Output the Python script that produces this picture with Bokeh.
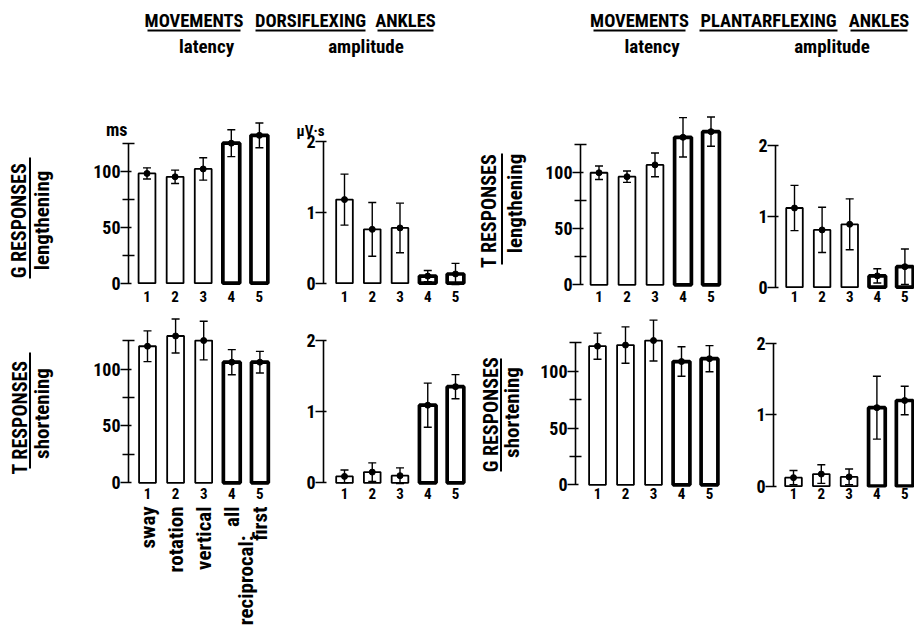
import math
from bokeh.plotting import figure
from bokeh.models import Range1d, FixedTicker, LinearAxis, Whisker, TeeHead, ColumnDataSource
from bokeh.layouts import row, column
from bokeh.core.properties import value
from bokeh.embed import file_html
from bokeh.resources import INLINE

FONT = "Roboto Condensed"

# ---------------- data ----------------
movements = [1, 2, 3, 4, 5]
movement_names = ["sway", "rotation", "vertical", "all", "first"]
reciprocal_label = "reciprocal:"

# movements dorsiflexing ankles
dorsi_G_len_latency_mean = [98, 95, 102, 125, 132]
dorsi_G_len_latency_sd = [5, 6, 10, 12, 11]
dorsi_G_len_amp_mean = [1.18, 0.76, 0.78, 0.10, 0.13]
dorsi_G_len_amp_sd = [0.36, 0.38, 0.35, 0.08, 0.15]
dorsi_T_sho_latency_mean = [120, 129, 125, 106, 106]
dorsi_T_sho_latency_sd = [13.5, 15, 17, 11, 9.5]
dorsi_T_sho_amp_mean = [0.09, 0.15, 0.10, 1.09, 1.35]
dorsi_T_sho_amp_sd = [0.09, 0.13, 0.11, 0.31, 0.17]

# movements plantarflexing ankles
plantar_T_len_latency_mean = [99.5, 96, 106.5, 131, 136]
plantar_T_len_latency_sd = [6, 5, 10.5, 17.5, 13]
plantar_T_len_amp_mean = [1.12, 0.81, 0.89, 0.16, 0.29]
plantar_T_len_amp_sd = [0.32, 0.32, 0.36, 0.10, 0.25]
plantar_G_sho_latency_mean = [122, 123, 127, 108.5, 111]
plantar_G_sho_latency_sd = [11.5, 16, 18, 13, 11.5]
plantar_G_sho_amp_mean = [0.12, 0.17, 0.13, 1.10, 1.20]
plantar_G_sho_amp_sd = [0.10, 0.13, 0.11, 0.44, 0.20]

latency_ticks = [0, 50, 100]
latency_minor = [25, 75, 125]
latency_top = 125
amp_ticks = [0, 1, 2]
amp_top = 2
latency_unit = "ms"
amp_unit = "μV·s"

# ---------------- style ----------------
bar_line_widths = [1.8, 1.8, 1.8, 3.7, 3.7]
BOLD = "bold"


def style_plain(p):
    p.outline_line_color = None
    p.background_fill_color = "white"
    p.border_fill_color = "white"
    for g in p.grid:
        g.visible = False


def label_fig(left, right, top, bottom, ft=None, fb=None, x_range=None):
    # plain figure whose data coordinates are page pixels; borders match the row's panels
    ft = top if ft is None else ft
    fb = bottom if fb is None else fb
    p = figure(width=right - left, height=bottom - top,
               x_range=x_range if x_range is not None else Range1d(left, right),
               y_range=Range1d(fb, ft),
               x_axis_location=None, y_axis_location=None,
               min_border=0, min_border_left=0, min_border_right=0,
               min_border_top=ft - top, min_border_bottom=bottom - fb,
               output_backend="svg", toolbar_location=None)
    style_plain(p)
    return p


def panel(left, right, top, bottom, ft, fb, axis_x, zero_y, ppu,
          bar1_x, pitch, frame_right, means, sds, kind):
    height = bottom - top
    x_lo = 1 - (bar1_x - axis_x) / pitch
    x_hi = x_lo + (frame_right - axis_x) / pitch
    y_hi = (zero_y - ft) / ppu
    y_lo = (zero_y - fb) / ppu
    mbl = int(round(axis_x - left))
    mbr = int(round(right - frame_right))
    p = figure(width=right - left, height=height,
               x_range=Range1d(x_lo, x_hi), y_range=Range1d(y_lo, y_hi),
               x_axis_location=None, y_axis_location=None,
               min_border_left=mbl, min_border_right=mbr,
               min_border_top=ft - top, min_border_bottom=bottom - fb,
               output_backend="svg", toolbar_location=None)
    style_plain(p)

    if kind == "latency":
        ticker = FixedTicker(ticks=latency_ticks, minor_ticks=latency_minor)
        bounds = (0, latency_top)
    else:
        ticker = FixedTicker(ticks=amp_ticks, minor_ticks=[])
        bounds = (0, amp_top)
    ya = LinearAxis(ticker=ticker, bounds=bounds)
    ya.axis_line_width = 1.6
    ya.major_tick_line_width = 1.6
    ya.minor_tick_line_width = 1.4
    ya.major_tick_out = 8
    ya.major_tick_in = 3
    ya.minor_tick_out = 6
    ya.minor_tick_in = 6
    ya.major_label_standoff = 0
    ya.major_label_text_font = FONT
    ya.major_label_text_font_style = BOLD
    ya.major_label_text_font_size = "18px"
    ya.major_label_text_color = "black"
    p.add_layout(ya, "left")

    xa = LinearAxis(ticker=FixedTicker(ticks=movements, minor_ticks=[]))
    xa.axis_line_color = None
    xa.major_tick_line_color = None
    xa.minor_tick_line_color = None
    xa.major_tick_out = 0
    xa.major_tick_in = 0
    xa.major_label_standoff = 0
    xa.major_label_text_font = FONT
    xa.major_label_text_font_style = BOLD
    xa.major_label_text_font_size = "15px"
    xa.major_label_text_color = "black"
    p.add_layout(xa, "below")

    lo = [m - s for m, s in zip(means, sds)]
    hi = [m + s for m, s in zip(means, sds)]
    src = ColumnDataSource(dict(x=movements, top=means, lo=lo, hi=hi, lw=bar_line_widths))
    p.vbar(x="x", top="top", bottom=0, width=0.6, source=src,
           fill_color="white", line_color="black", line_width="lw")
    w = Whisker(source=src, base="x", upper="hi", lower="lo", level="overlay",
                line_width=1.4, line_color="black",
                upper_head=TeeHead(size=8, line_width=1.4, line_color="black"),
                lower_head=TeeHead(size=8, line_width=1.4, line_color="black"))
    p.add_layout(w)
    p.scatter(x="x", y="top", source=src, size=6, color="black", level="overlay")
    return p, x_lo


def unit_axis(p, at, text, standoff, size):
    # a second, line-less left axis that only carries the unit label above the scale
    ua = LinearAxis(ticker=FixedTicker(ticks=[at], minor_ticks=[]),
                    major_label_overrides={at: text})
    ua.axis_line_color = None
    ua.major_tick_line_color = None
    ua.minor_tick_line_color = None
    ua.major_tick_out = 0
    ua.major_tick_in = 0
    ua.major_label_standoff = standoff
    ua.major_label_text_font = FONT
    ua.major_label_text_font_style = BOLD
    ua.major_label_text_font_size = size
    ua.major_label_text_color = "black"
    p.add_layout(ua, "left")


# ---------------- layout (page coordinates) ----------------
PAGE_R = 914
HDR_TOP, R1_TOP, R2_TOP, NAMES_TOP, PAGE_B = 0, 92, 314, 505, 632
R1_FT, R1_FB = 112, 290
R2_FT, R2_FB = 315, 487

# header
hdr = label_fig(0, PAGE_R, HDR_TOP, R1_TOP)
head_words = ["MOVEMENTS", "DORSIFLEXING", "ANKLES", "MOVEMENTS", "PLANTARFLEXING", "ANKLES"]
head_spans = [(147, 240), (255, 365), (377, 433), (593, 685), (699, 837), (850, 907)]
hdr.text(x=[(a + b) / 2 for a, b in head_spans], y=[20.5] * 6, text=head_words,
         text_font=value(FONT), text_font_style=BOLD, text_font_size="18.5px",
         text_align="center", text_baseline="middle", text_color="black")
hdr.segment(x0=[a for a, b in head_spans], x1=[b for a, b in head_spans],
            y0=[30] * 6, y1=[30] * 6, line_width=2, line_color="black")
sub_words = ["latency", "amplitude", "latency", "amplitude"]
hdr.text(x=[206, 365.5, 651.5, 831.5], y=[45.5] * 4, text=sub_words,
         text_font=value(FONT), text_font_style=BOLD, text_font_size="19px",
         text_align="center", text_baseline="middle", text_color="black")


def row_label(left, right, top, bottom, ft, fb, first, second, cx1, cy1, ux, uy0, uy1, cx2, cy2):
    p = label_fig(left, right, top, bottom, ft, fb)
    p.text(x=[cx1], y=[cy1], text=[first], angle=math.pi / 2,
           text_font=value(FONT), text_font_style=BOLD, text_font_size="20px",
           text_align="center", text_baseline="middle", text_color="black")
    p.segment(x0=[ux], x1=[ux], y0=[uy0], y1=[uy1], line_width=2, line_color="black")
    p.text(x=[cx2], y=[cy2], text=[second], angle=math.pi / 2,
           text_font=value(FONT), text_font_style=BOLD, text_font_size="21px",
           text_align="center", text_baseline="middle", text_color="black")
    return p


L1 = row_label(0, 70, R1_TOP, R2_TOP, R1_FT, R1_FB, "G  RESPONSES", "lengthening",
               18, 218, 29.5, 157, 278, 41.5, 220)
L2 = row_label(472, 530, R1_TOP, R2_TOP, R1_FT, R1_FB, "T  RESPONSES", "lengthening",
               488.5, 208, 501.5, 153, 264, 514.5, 203)
L3 = row_label(0, 70, R2_TOP, NAMES_TOP, R2_FT, R2_FB, "T    RESPONSES", "shortening",
               19, 410, 29.5, 352, 468, 41, 413)
L4 = row_label(472, 530, R2_TOP, NAMES_TOP, R2_FT, R2_FB, "G  RESPONSES", "shortening",
               490, 412, 500.5, 358, 471, 511, 412)

A, _ = panel(70, 290, R1_TOP, R2_TOP, R1_FT, R1_FB, 128, 282.7, 1.12, 146.5, 28.1, 273,
             dorsi_G_len_latency_mean, dorsi_G_len_latency_sd, "latency")
unit_axis(A, 137, latency_unit, -37, "18px")
B, _ = panel(290, 472, R1_TOP, R2_TOP, R1_FT, R1_FB, 323, 282.7, 70.85, 344, 27.75, 470,
             dorsi_G_len_amp_mean, dorsi_G_len_amp_sd, "amp")
unit_axis(B, 2.15, amp_unit, -21, "15px")
C, _ = panel(530, 740, R1_TOP, R2_TOP, R1_FT, R1_FB, 580, 284.3, 1.126, 598.5, 28, 735,
             plantar_T_len_latency_mean, plantar_T_len_latency_sd, "latency")
D, _ = panel(740, PAGE_R, R1_TOP, R2_TOP, R1_FT, R1_FB, 775, 286.7, 70.7, 794, 27.6, PAGE_R,
             plantar_T_len_amp_mean, plantar_T_len_amp_sd, "amp")

E_pitch, E_axis = 28.1, 128
E, E_xlo = panel(70, 290, R2_TOP, NAMES_TOP, R2_FT, R2_FB, E_axis, 482.3, 1.138, 147, E_pitch, 273,
                 dorsi_T_sho_latency_mean, dorsi_T_sho_latency_sd, "latency")
F, _ = panel(290, 472, R2_TOP, NAMES_TOP, R2_FT, R2_FB, 323, 482.3, 71.2, 344, 27.75, 470,
             dorsi_T_sho_amp_mean, dorsi_T_sho_amp_sd, "amp")
G, _ = panel(530, 740, R2_TOP, NAMES_TOP, R2_FT, R2_FB, 575, 484.3, 1.136, 597, 28, 735,
             plantar_G_sho_latency_mean, plantar_G_sho_latency_sd, "latency")
H, _ = panel(740, PAGE_R, R2_TOP, NAMES_TOP, R2_FT, R2_FB, 773, 485.7, 71.4, 793, 27.8, PAGE_R,
             plantar_G_sho_amp_mean, plantar_G_sho_amp_sd, "amp")

# movement names under the first lower panel (same x scale as panel E)
names_range = Range1d(E_xlo - E_axis / E_pitch, E_xlo + (290 - E_axis) / E_pitch)
names = label_fig(0, 290, NAMES_TOP, PAGE_B, x_range=names_range)
names.text(x=movements, y=[506] * 5, text=movement_names, angle=math.pi / 2, x_offset=0,
           text_font=value(FONT), text_font_style=BOLD, text_font_size="21px",
           text_align="right", text_baseline="middle", text_color="black")
names.text(x=[(movements[3] + movements[4]) / 2], y=[535], text=[reciprocal_label], angle=math.pi / 2,
           x_offset=0, text_font=value(FONT), text_font_style=BOLD, text_font_size="21px",
           text_align="right", text_baseline="middle", text_color="black")

layout = column(hdr, row(L1, A, B, L2, C, D), row(L3, E, F, L4, G, H), names)

open("out.html", "w").write(file_html(layout, INLINE))
